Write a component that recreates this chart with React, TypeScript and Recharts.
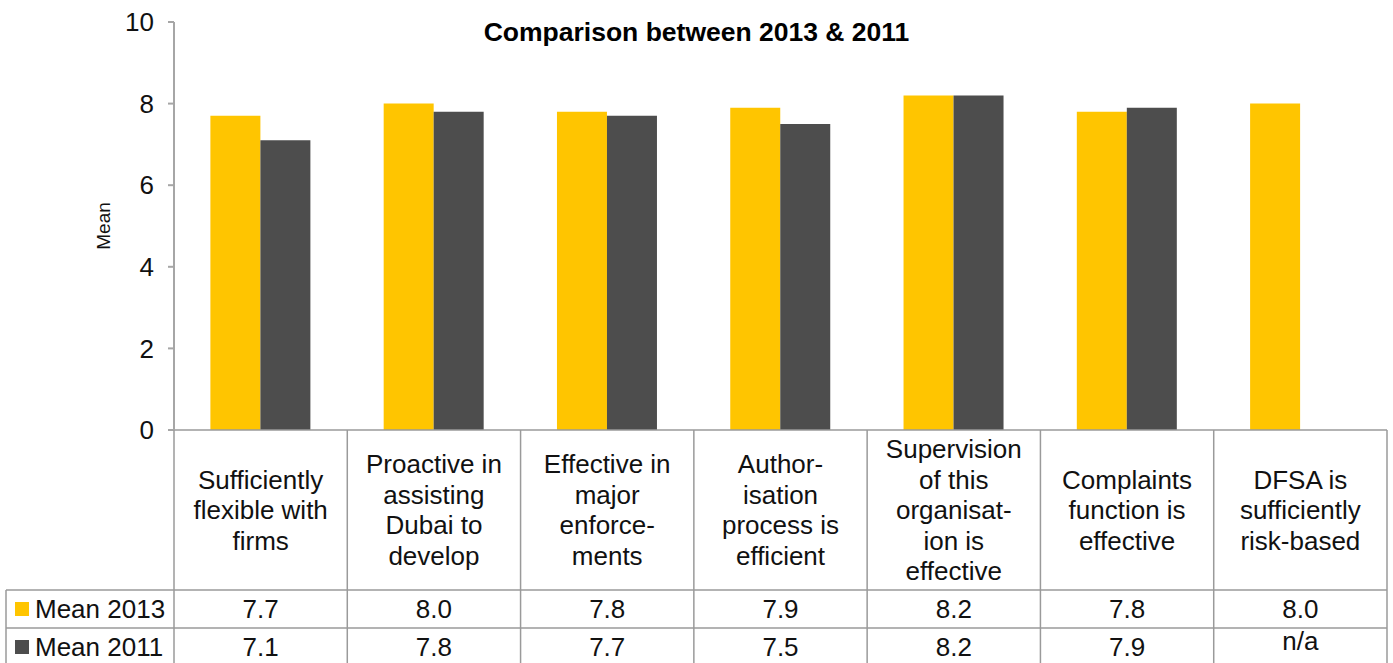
import React from 'react';
import { BarChart, Bar, XAxis, YAxis, Label } from 'recharts';

const categories = [
  'Sufficiently\nflexible with\nfirms',
  'Proactive in\nassisting\nDubai to\ndevelop',
  'Effective in\nmajor\nenforce-\nments',
  'Author-\nisation\nprocess is\nefficient',
  'Supervision\nof this\norganisat-\nion is\neffective',
  'Complaints\nfunction is\neffective',
  'DFSA is\nsufficiently\nrisk-based',
];
const mean2013 = [7.7, 8.0, 7.8, 7.9, 8.2, 7.8, 8.0];
const mean2011: (number | null)[] = [7.1, 7.8, 7.7, 7.5, 8.2, 7.9, null];
const yTicks = [0, 2, 4, 6, 8, 10];

const series = [
  { key: 'm2013', name: 'Mean 2013', color: '#FFC500', values: mean2013 },
  { key: 'm2011', name: 'Mean 2011', color: '#4D4D4D', values: mean2011 },
];

const data = categories.map((c, i) => ({
  category: c,
  m2013: mean2013[i],
  m2011: mean2011[i],
}));

const FONT = '"Liberation Sans", Arial, sans-serif';
const LINE = '#9A9A9A';
const TABLE_H = 233;
const HEADER_H = 160;
const ROW_H = 38;
const FS = 26;

function TableTick(props: any) {
  const { x, y, payload, index } = props;
  const half = payload.offset ?? 0;
  const left = x - half;
  const right = x + half;
  const lines = String(payload.value).split('\n');
  const lh = 30.5;
  const mid = y + HEADER_H / 2;
  const startY = mid - ((lines.length - 1) * lh) / 2;
  const r1 = y + HEADER_H;
  const r2 = r1 + ROW_H;
  return (
    <g>
      <line x1={left} y1={y} x2={left} y2={y + TABLE_H} stroke={LINE} strokeWidth={1.5} />
      {index === categories.length - 1 && (
        <line x1={right} y1={y} x2={right} y2={y + TABLE_H} stroke={LINE} strokeWidth={1.5} />
      )}
      <line x1={left} y1={r1} x2={right} y2={r1} stroke={LINE} strokeWidth={1.5} />
      <line x1={left} y1={r2} x2={right} y2={r2} stroke={LINE} strokeWidth={1.5} />
      {lines.map((l, k) => (
        <text key={k} x={x} y={startY + k * lh} textAnchor="middle" dominantBaseline="central"
          fontSize={FS} fill="#111" fontFamily={FONT}>
          {l}
        </text>
      ))}
      {series.map((s, k) => {
        const v = s.values[index];
        const cy = r1 + ROW_H / 2 + k * ROW_H;
        return (
          <text key={s.key} x={x} y={v == null ? cy - 6 : cy} textAnchor="middle" dominantBaseline="central"
            fontSize={FS} fill="#111" fontFamily={FONT}>
            {v == null ? 'n/a' : v.toFixed(1)}
          </text>
        );
      })}
      {index === 0 && (
        <g>
          <line x1={6} y1={r1} x2={left} y2={r1} stroke={LINE} strokeWidth={1.5} />
          <line x1={6} y1={r2} x2={left} y2={r2} stroke={LINE} strokeWidth={1.5} />
          <line x1={6} y1={r1} x2={6} y2={y + TABLE_H} stroke={LINE} strokeWidth={1.5} />
          {series.map((s, k) => {
            const cy = r1 + ROW_H / 2 + k * ROW_H;
            return (
              <g key={s.key}>
                <rect x={15} y={cy - 7} width={14} height={14} fill={s.color} />
                <text x={35} y={cy} dominantBaseline="central" fontSize={FS} fill="#111" fontFamily={FONT}>
                  {s.name}
                </text>
              </g>
            );
          })}
        </g>
      )}
    </g>
  );
}

export default function App() {
  return (
    <div style={{ position: 'absolute', left: 0, top: 0, width: 1393, height: 663, background: '#fff', fontFamily: FONT }}>
      <div style={{ position: 'absolute', left: 0, width: 1393, top: 16, textAlign: 'center', fontWeight: 'bold', fontSize: 26.5, color: '#000', lineHeight: '32px' }}>
        Comparison between 2013 &amp; 2011
      </div>
      <BarChart
        width={1393}
        height={663}
        data={data}
        margin={{ top: 22, right: 6, bottom: 0, left: 94 }}
        barCategoryGap="21%"
        barGap={0}
        style={{ fontFamily: FONT }}
      >
        <XAxis
          dataKey="category"
          height={TABLE_H}
          tickLine={false}
          tickSize={0}
          tickMargin={0}
          axisLine={{ stroke: LINE, strokeWidth: 1.5 }}
          tick={<TableTick />}
          interval={0}
        />
        <YAxis
          width={80}
          domain={[0, 10]}
          ticks={yTicks}
          axisLine={{ stroke: '#A6A6A6', strokeWidth: 2 }}
          tickLine={{ stroke: '#A6A6A6', strokeWidth: 2 }}
          tickSize={6}
          tickMargin={14}
          tick={{ fontSize: FS, fill: '#111' }}
        >
          <Label
            content={({ viewBox }: any) => {
              const cx = viewBox.x + 9;
              const cy = viewBox.y + viewBox.height / 2;
              return (
                <text x={cx} y={cy} transform={`rotate(-90 ${cx} ${cy})`} textAnchor="middle"
                  dominantBaseline="central" fontSize={19} fill="#111" fontFamily={FONT}>
                  Mean
                </text>
              );
            }}
          />
        </YAxis>
        {series.map((s) => (
          <Bar key={s.key} dataKey={s.key} name={s.name} fill={s.color} isAnimationActive={false} />
        ))}
      </BarChart>
    </div>
  );
}
